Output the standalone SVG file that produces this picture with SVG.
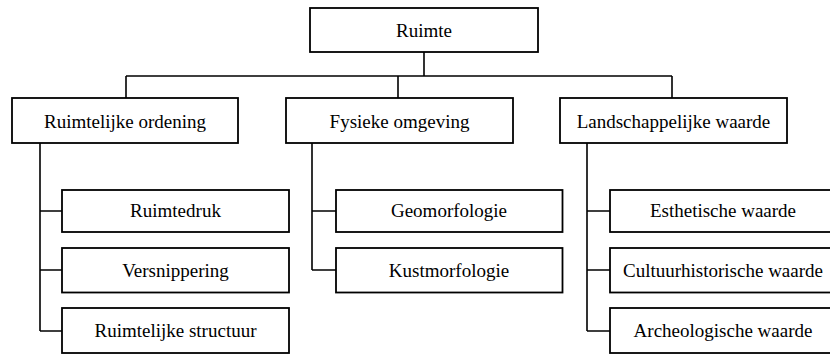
<svg xmlns="http://www.w3.org/2000/svg" width="830" height="354" viewBox="0 0 830 354">
<style>
rect{fill:#fff;stroke:#000;stroke-width:1.8}
.c{fill:none;stroke:#000;stroke-width:1.6}
</style>
<rect x="0" y="0" width="830" height="354" style="stroke:none"/>
<g id="connectors" class="c">
<path d="M424,52V76M126,76H672M126,76V98M398,76V98M672,76V98"/>
<path d="M40,143V331M40,211H62M40,270H62M40,331H62"/>
<path d="M312,143V270M312,211H336M312,270H336"/>
<path d="M587,143V331M587,211H610M587,270H610M587,331H610"/>
</g>
<g font-family="Liberation Serif, serif" font-size="19" text-anchor="middle" fill="#000">
<g id="n-ruimte"><rect x="310" y="8" width="228" height="44"/><text x="424" y="36.5">Ruimte</text></g>
<g id="n-ordening"><rect x="12" y="98" width="226" height="45"/><text x="125" y="127.5">Ruimtelijke ordening</text></g>
<g id="n-fysiek"><rect x="286" y="98" width="227" height="45"/><text x="399.5" y="127.5">Fysieke omgeving</text></g>
<g id="n-landschap"><rect x="560" y="98" width="227" height="45"/><text x="673.5" y="127.5">Landschappelijke waarde</text></g>
<g id="n-ruimtedruk"><rect x="62" y="190" width="227" height="42"/><text x="175.5" y="217">Ruimtedruk</text></g>
<g id="n-versnippering"><rect x="62" y="248" width="227" height="44.5"/><text x="175.5" y="276.5">Versnippering</text></g>
<g id="n-structuur"><rect x="62" y="308" width="227" height="45"/><text x="175.5" y="336.5">Ruimtelijke structuur</text></g>
<g id="n-geomorf"><rect x="336" y="190" width="226.5" height="42"/><text x="449" y="217">Geomorfologie</text></g>
<g id="n-kustmorf"><rect x="336" y="248" width="226.5" height="44.5"/><text x="449" y="276.5">Kustmorfologie</text></g>
<g id="n-esthetisch"><rect x="610" y="190" width="226" height="42"/><text x="723" y="217">Esthetische waarde</text></g>
<g id="n-cultuur"><rect x="610" y="248" width="226" height="44.5"/><text x="723" y="276.5">Cultuurhistorische waarde</text></g>
<g id="n-archeo"><rect x="610" y="308" width="226" height="45"/><text x="723" y="336.5">Archeologische waarde</text></g>
</g>
</svg>
